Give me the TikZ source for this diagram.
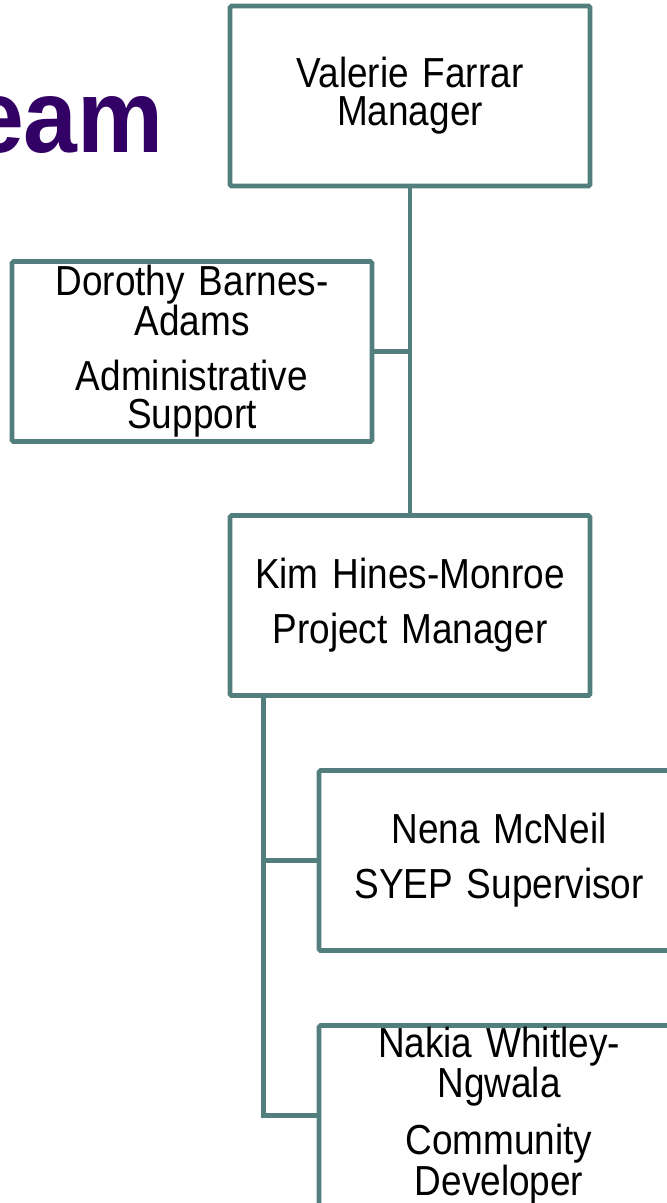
\documentclass[tikz,border=0pt]{standalone}
\usepackage{fontspec}
\setmainfont{Liberation Sans}[FakeStretch=0.88]
\newfontfamily\titlefont{Liberation Sans}[FakeStretch=0.93]
\usetikzlibrary{positioning}
\definecolor{boxline}{HTML}{527E7D}
\definecolor{titlepurple}{HTML}{330066}
\tikzset{
    person/.style={draw=boxline, line width=4.6pt, fill=white, rounded corners=1.5pt,
        minimum width=360pt, minimum height=180pt, text width=340pt, inner sep=0pt,
        align=center, font=\fontsize{42}{38}\selectfont},
    conn/.style={draw=boxline, line width=4.6pt}
}
\newcommand{\gap}{\\[17pt]}
\begin{document}
\begin{tikzpicture}[x=1pt, y=-1pt]
    \useasboundingbox (0,0) rectangle (667,1203);
    \clip (0,0) rectangle (667,1203);

    %title
    \node[anchor=base east, inner sep=0pt, text=titlepurple, font=\titlefont\bfseries\fontsize{104}{110}\selectfont] (title) at (164,152) {eam};

    %boxes
    \node[person] (valerie) at (410,96) {Valerie Farrar\\Manager};
    \node[person] (dorothy) at (192,351.5) {Dorothy Barnes-\\Adams\gap Administrative\\Support};
    \node[person] (kim) at (410,605.5) {Kim Hines-Monroe\gap Project Manager};
    \node[person] (nena) at (499,860.5) {Nena McNeil\gap SYEP Supervisor};
    \node[person] (nakia) at (499,1115.5) {Nakia Whitley-\\Ngwala\gap Community\\Developer};

    %lines
    \draw[conn] (valerie.south) -- (kim.north);
    \draw[conn] (dorothy.east) -- (dorothy.east -| valerie.south);
    \coordinate (trunk) at ([xshift=36pt]kim.south west);
    \draw[conn] (trunk) |- (nakia.west);
    \draw[conn] (trunk |- nena.west) -- (nena.west);
\end{tikzpicture}
\end{document}
